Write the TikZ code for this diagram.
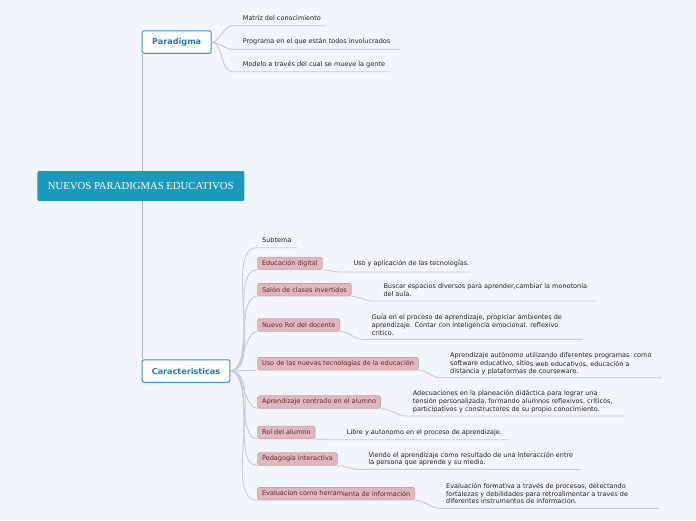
\documentclass[tikz,border=0pt]{standalone}
\usepackage{fontspec}
\setmainfont{DejaVu Sans}
\newfontfamily\serifmain{Liberation Serif}
\usetikzlibrary{calc}
\definecolor{bgc}{HTML}{F3F5FD}
\definecolor{mainfill}{HTML}{1A9BBD}
\definecolor{topborder}{HTML}{3A8EDF}
\definecolor{toptext}{HTML}{1E78D2}
\definecolor{pillfill}{HTML}{DEB8BE}
\definecolor{pilldraw}{HTML}{CCA2A9}
\definecolor{pilltext}{HTML}{6E2233}
\definecolor{linec}{HTML}{C9CAD2}
\definecolor{trunkc}{HTML}{B4B4B8}
\definecolor{txt}{HTML}{222222}
\tikzset{
  x=1pt, y=-1pt,
  mainbox/.style={draw=none, fill=mainfill, rounded corners=2pt, minimum width=207pt, minimum height=30pt, text=white, font=\serifmain\fontsize{10.7}{12}\selectfont, inner sep=0pt},
  topbox/.style={draw=topborder, line width=1pt, fill=white, rounded corners=2pt, minimum height=22.5pt, text=toptext, font=\bfseries\fontsize{8.1}{9}\selectfont, inner sep=0pt, anchor=west},
  pill/.style={draw=pilldraw, line width=0.6pt, fill=pillfill, rounded corners=1.5pt, minimum height=12.5pt, inner xsep=4.5pt, inner ysep=0pt, text=pilltext, font=\fontsize{6.5}{7.7}\selectfont, anchor=west},
  desc/.style={text=txt, font=\fontsize{6.5}{7.7}\selectfont, align=left, inner sep=0pt, anchor=west},
  branch/.style={draw=linec, line width=0.9pt},
  trunk/.style={draw=trunkc, line width=1.6pt},
}
\begin{document}
\begin{tikzpicture}
\fill[bgc] (0,0) rectangle (696,520);
\useasboundingbox (0,0) rectangle (696,520);

% top level nodes
\node[topbox, minimum width=69pt] (par) at (141.7,42) {Paradigma};
\node[topbox, minimum width=87.6pt] (car) at (141.7,371) {Caracteristicas};
\draw[trunk] ([xshift=0.8pt]par.south west) -- ([xshift=0.8pt]car.north west);
\node[mainbox] (main) at (140.8,186) {NUEVOS PARADIGMAS EDUCATIVOS};

% Paradigma children
\node[desc] (p1) at (242.7,18.3) {Matriz del conocimiento};
\node[desc] (p2) at (242.7,41.7) {Programa en el que están todos involucrados};
\node[desc] (p3) at (242.7,64.3) {Modelo a través del cual se mueve la gente};
\coordinate (p1a) at (232,25.7); \coordinate (p1b) at (325,25.7);
\coordinate (p2a) at (232,49.3); \coordinate (p2b) at (400,49.3);
\coordinate (p3a) at (232,71.7); \coordinate (p3b) at (390,71.7);
\foreach \i in {1,2,3}{
  \draw[branch] (par.east) to[out=0,in=180,looseness=0.8] (p\i a) -- (p\i b);
}

% Caracteristicas children
\node[desc] (s0) at (262,240.3) {Subtema};
\coordinate (s0a) at (257,247.7); \coordinate (s0b) at (297,247.7);
\draw[branch] (car.east) to[out=0,in=180,looseness=0.7] (s0a) -- (s0b);

\node[pill] (c1) at (257.3,263.3) {Educación digital};
\node[pill] (c2) at (257.3,289.7) {Salón de clases invertidos};
\node[pill] (c3) at (257.3,325) {Nuevo Rol del docente};
\node[pill] (c4) at (257.3,363.7) {Uso de las nuevas tecnologías de la educación};
\node[pill] (c5) at (257.3,402) {Aprendizaje centrado en el alumno};
\node[pill] (c6) at (257.3,432.5) {Rol del alumno};
\node[pill] (c7) at (257.3,459) {Pedagogia interactiva};
\node[pill] (c8) at (257.3,493.7) {Evaluacion como herram\raisebox{-1pt}{ienta de información}};

\foreach \i in {1,...,8}{
  \draw[branch] (car.east) to[out=0,in=180,looseness=0.7] (c\i.south west);
}

\node[desc] (d1) at (353.3,263.3) {Uso y aplicación de las tecnologías.};
\node[desc] (d2) at (383.3,290.1) {Buscar espacios diversos para aprender,cambiar la monotonía\\del aula.};
\node[desc] (d3) at (371.7,324.9) {Guía en el proceso de aprendizaje, propiciar ambientes de\\aprendizaje. Contar con inteligencia emocional. reflexivo\\critico.};
\node[desc] (d4) at (450,363.4) {Aprendizaje autónomo utilizando diferentes programas \ como\\software educativo, sitio\raisebox{-1pt}{s web educativos, educación a}\\distancia y plataformas de courseware.};
\node[desc] (d5) at (412.7,401.5) {Adecuaciones en la planeación didáctica para lograr una\\tensión personalizada, formando alumnos reflexivos, críticos,\\participativos y constructores de su propio conocimiento.};
\node[desc] (d6) at (346.7,432.3) {Libre y autonomo en el proceso de aprendizaje.};
\node[desc] (d7) at (368.3,459.2) {Viendo el aprendizaje como resultado de una interacción entre\\la persona que aprende y su medio.};
\node[desc] (d8) at (446,493.7) {Evaluación formativa a través de procesos, detectando\\fortalezas y debilidades para retroalimentar a traves de\\diferentes instrumentos de informacion.};

\coordinate (u1a) at (340,272);   \coordinate (u1b) at (470,272);
\coordinate (u2a) at (372,301);   \coordinate (u2b) at (595,301);
\coordinate (u3a) at (363,339.3); \coordinate (u3b) at (583,339.3);
\coordinate (u4a) at (440,377.7); \coordinate (u4b) at (661.7,377.7);
\coordinate (u5a) at (407,416);   \coordinate (u5b) at (625,416);
\coordinate (u6a) at (330,439.7); \coordinate (u6b) at (508.3,439.7);
\coordinate (u7a) at (358,469.3); \coordinate (u7b) at (580,469.3);
\coordinate (u8a) at (440,508.3); \coordinate (u8b) at (658.3,508.3);
\foreach \i in {1,...,8}{
  \draw[branch] (c\i.south east) to[out=0,in=180] (u\i a) -- (u\i b);
}
\end{tikzpicture}
\end{document}
